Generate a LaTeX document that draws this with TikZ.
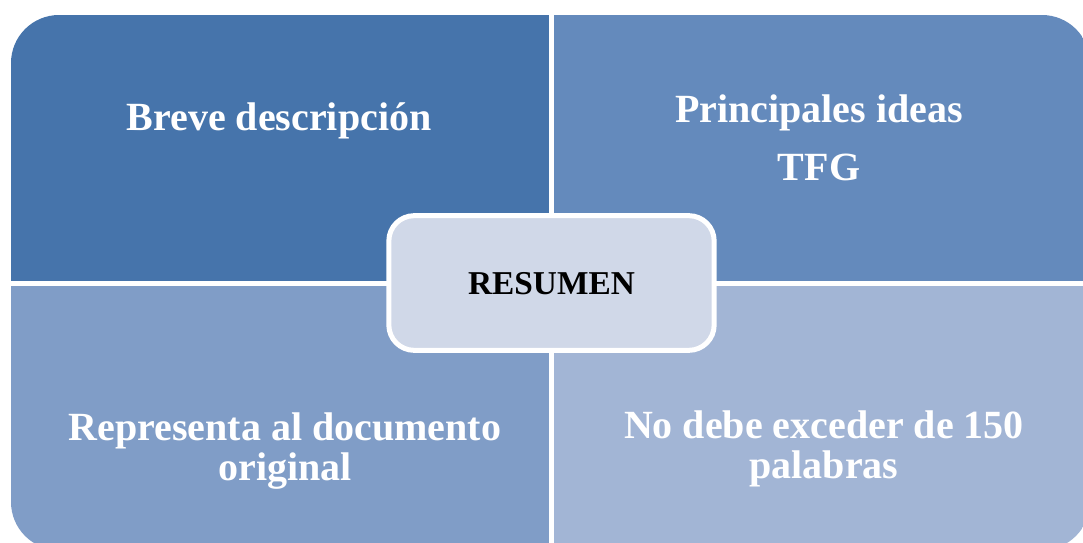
\documentclass[tikz,border=0pt]{standalone}
\usepackage{tikz}
\usepackage{xcolor}
\usepackage{fontspec}
\setmainfont{Liberation Serif}
\usetikzlibrary{positioning}
\definecolor{briefcolor}{RGB}{70,116,171}
\definecolor{ideascolor}{RGB}{100,138,188}
\definecolor{originalcolor}{RGB}{128,157,199}
\definecolor{limitcolor}{RGB}{162,181,213}
\definecolor{corecolor}{RGB}{208,216,232}

\begin{document}
\begin{tikzpicture}[
    x=0.75pt, y=-0.75pt,
    quadtext/.style={text=white, font=\fontsize{30}{30}\selectfont\bfseries, align=center, anchor=base},
    core/.style={rectangle, rounded corners=19pt, draw=white, line width=3.75pt, fill=corecolor, minimum width=244pt, minimum height=101pt, text depth=0pt, font=\fontsize{25}{28}\selectfont\bfseries},
    gap/.style={white, line width=3.75pt}
]
\useasboundingbox (0,0) rectangle (1083,543);
\begin{scope}
\clip (0,0) rectangle (1083,543);
\clip[rounded corners=36pt] (11,15) rectangle (1090,550);
\fill[briefcolor] (0,0) rectangle (551.5,283.5);
\fill[ideascolor] (551.5,0) rectangle (1083,283.5);
\fill[originalcolor] (0,283.5) rectangle (551.5,543);
\fill[limitcolor] (551.5,283.5) rectangle (1083,543);
\draw[gap] (551.5,0) -- (551.5,543);
\draw[gap] (0,283.5) -- (1083,283.5);
\end{scope}

% base anchor sits on the last line
\node[quadtext] (brief) at (279,130) {Breve descripción};
\node[quadtext] (ideas) at (819,180) {Principales ideas\\[13pt]TFG};
\node[quadtext] (original) at (285,480) {Representa al documento\\original};
\node[quadtext] (limit) at (824,478) {No debe exceder de 150\\palabras};
\node[core] (resumen) at (551.5,283) {RESUMEN};
\end{tikzpicture}
\end{document}
